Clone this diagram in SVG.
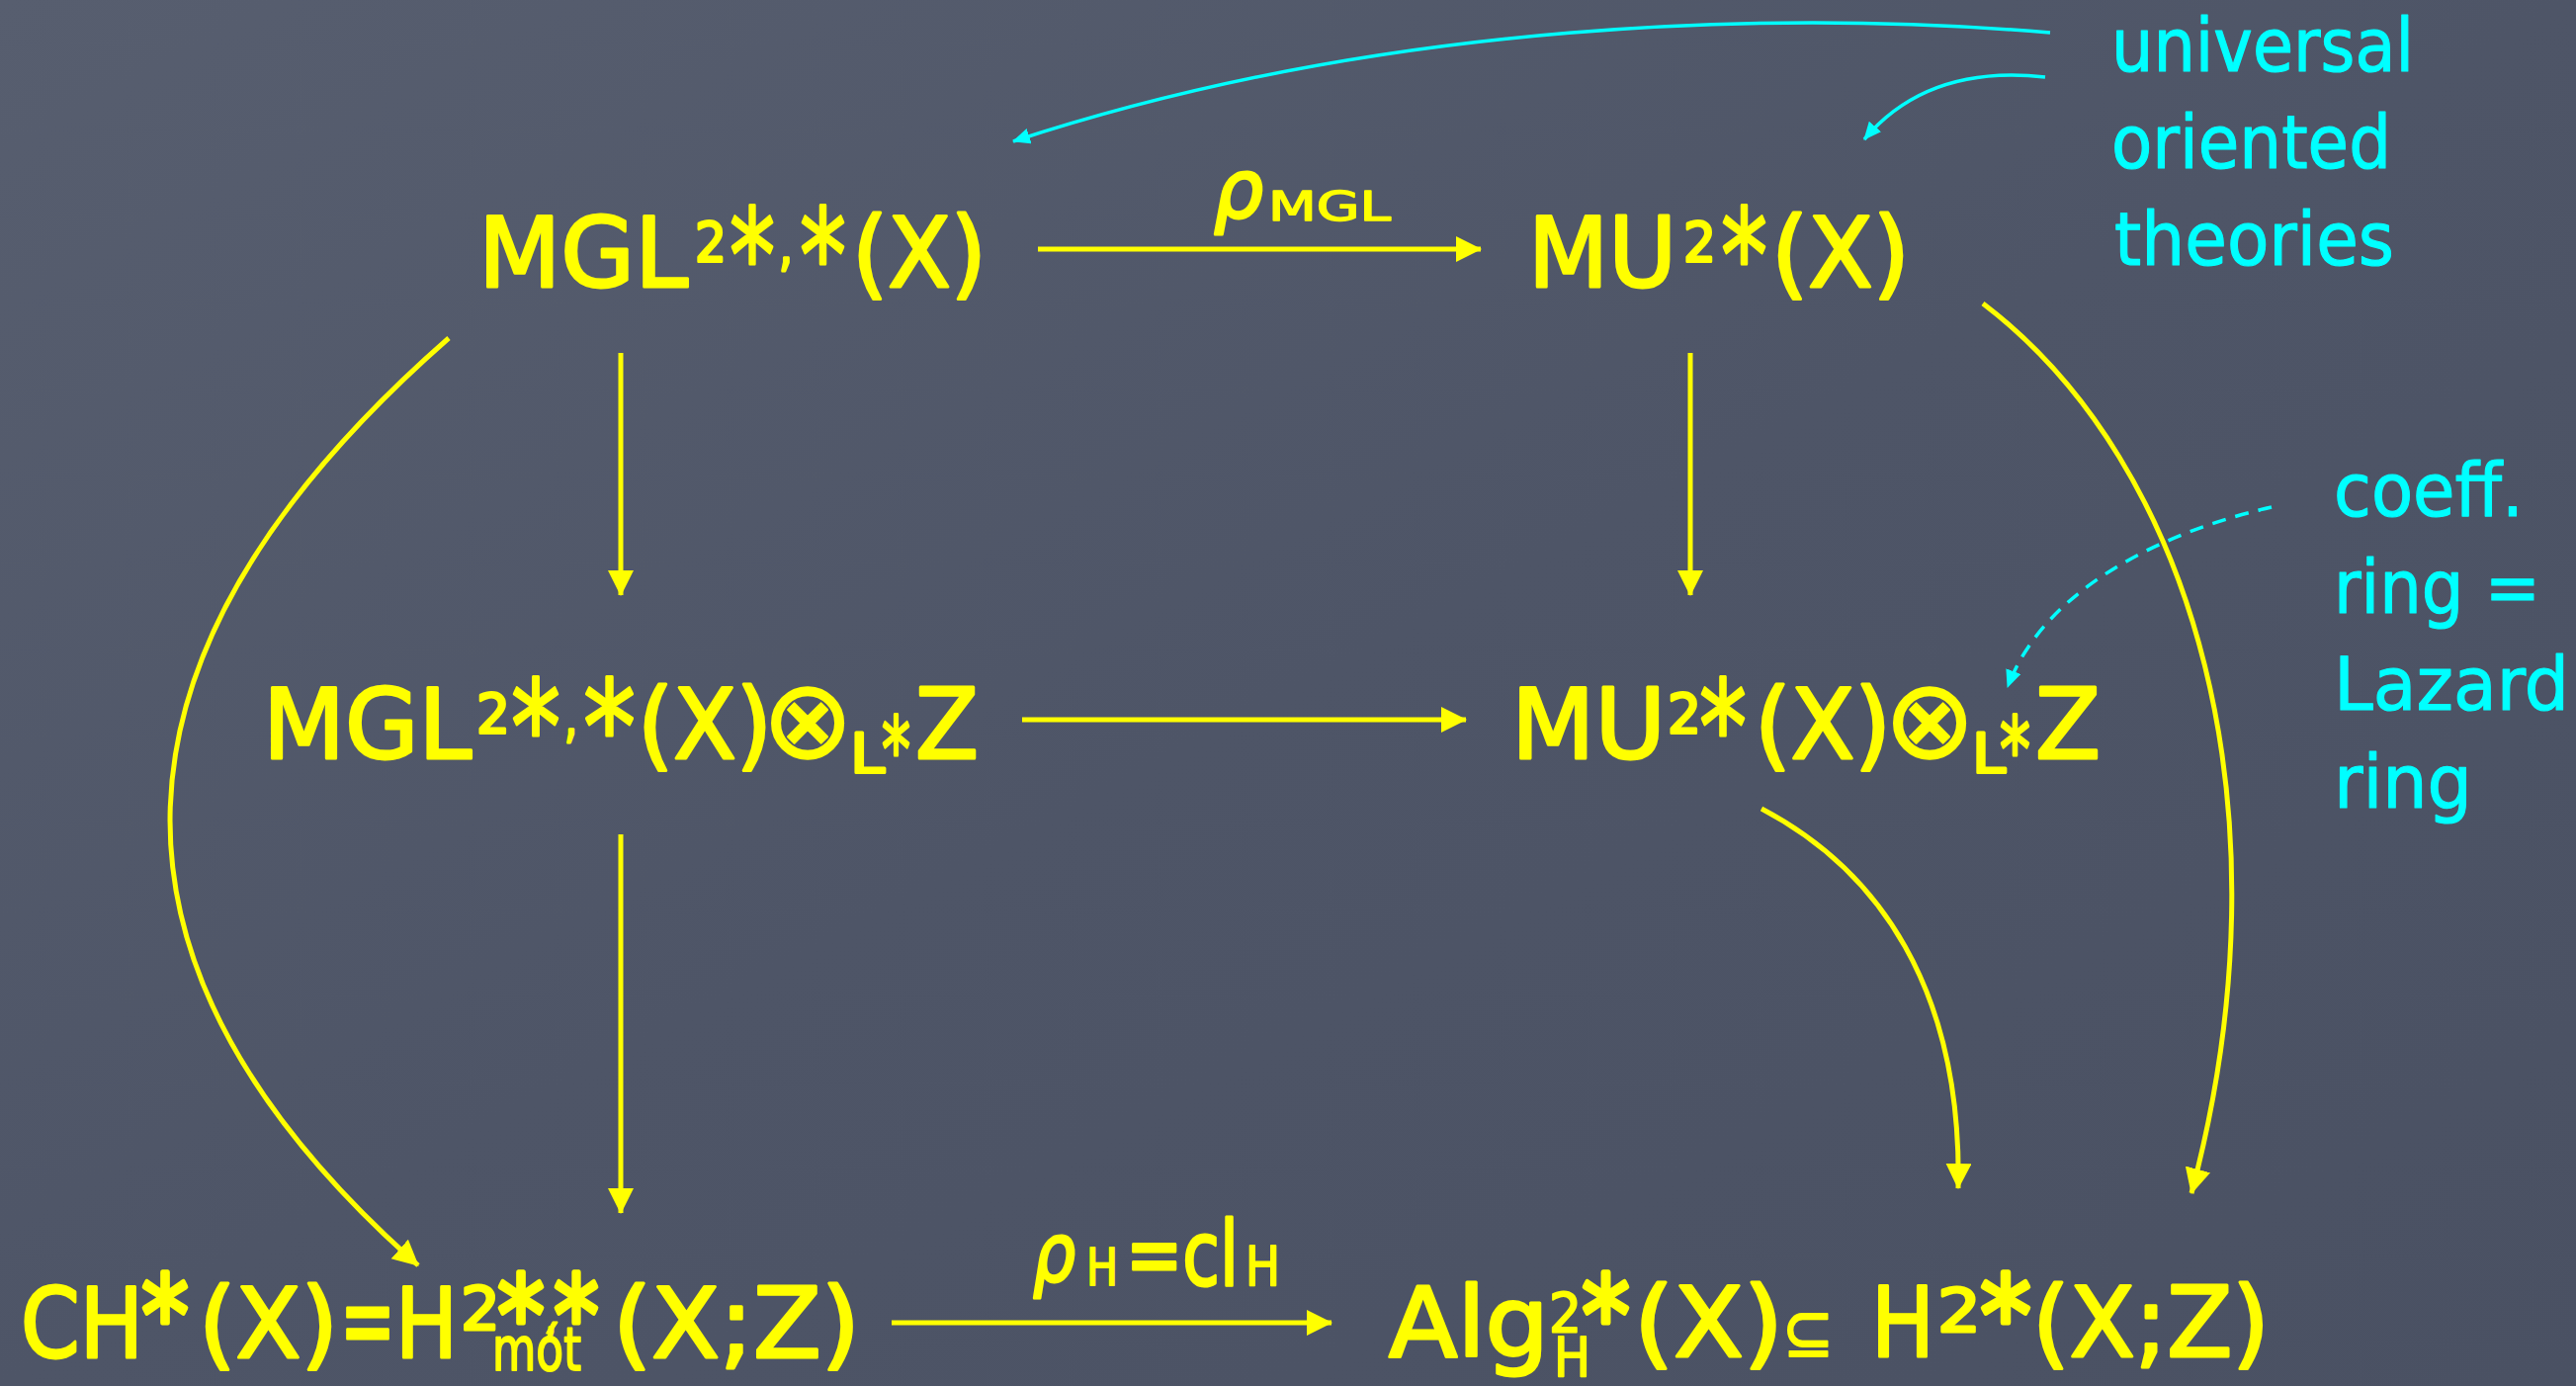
<svg xmlns="http://www.w3.org/2000/svg" width="2606" height="1402" viewBox="0 0 2606 1402">
<defs>
<linearGradient id="bg" x1="0" y1="0" x2="1" y2="1">
<stop offset="0" stop-color="#575e6f"/>
<stop offset="0.5" stop-color="#4e5567"/>
<stop offset="1" stop-color="#4a5163"/>
</linearGradient>
<marker id="ya" markerUnits="userSpaceOnUse" markerWidth="28" markerHeight="28" refX="25" refY="13" orient="auto">
<path d="M0,0 L26,13 L0,26 z" fill="#ffff00"/>
</marker>
<marker id="ca" markerUnits="userSpaceOnUse" markerWidth="20" markerHeight="20" refX="17" refY="8" orient="auto">
<path d="M0,0 L18,8 L0,16 z" fill="#00ffff"/>
</marker>
<style>
.y{fill:#ffff00;stroke:#ffff00;stroke-width:3;stroke-linejoin:round;font-family:"DejaVu Sans",sans-serif;font-size:98px}
.c{fill:#00ffff;stroke:#00ffff;stroke-width:1.2;stroke-linejoin:round;font-family:"DejaVu Sans",sans-serif;font-size:74px}
.s{font-size:56px}
.a{font-size:130px}
.ab{font-size:112px;stroke-width:5}
.o{font-size:110px;stroke-width:2}
.yl{fill:none;stroke:#ffff00;stroke-width:5;marker-end:url(#ya)}
.cl{fill:none;stroke:#00ffff;stroke-width:3.5;marker-end:url(#ca)}
</style>
</defs>
<rect width="2606" height="1402" fill="url(#bg)"/>

<g id="connectors">
<line class="yl" x1="1050" y1="252" x2="1498" y2="252"/>
<line class="yl" x1="1034" y1="728" x2="1483" y2="728"/>
<line class="yl" x1="902" y1="1338" x2="1347" y2="1338"/>
<line class="yl" x1="628" y1="357" x2="628" y2="602"/>
<line class="yl" x1="1710" y1="357" x2="1710" y2="602"/>
<line class="yl" x1="628" y1="844" x2="628" y2="1227"/>
<path class="yl" d="M454,342 Q-94,822 423,1280"/>
<path class="yl" d="M2006,307 C2220,470 2320,820 2217,1207"/>
<path class="yl" d="M1782,818 C1900,880 1985,1000 1981,1202"/>
<path class="cl" d="M2074,33 C1800,10 1400,20 1025,143"/>
<path class="cl" d="M2069,78 Q1950,65 1886,141"/>
<path class="cl" d="M2298,513 C2200,535 2070,590 2031,695" stroke-dasharray="14 10" stroke-width="3"/>
</g>

<g id="label-rho-mgl">
<text class="y"><tspan x="1228" y="220" font-size="82" font-style="italic" textLength="50" lengthAdjust="spacingAndGlyphs">ρ</tspan><tspan x="1283" y="223" font-size="41" stroke-width="1.5" textLength="124" lengthAdjust="spacingAndGlyphs">MGL</tspan></text>
</g>
<g id="label-rho-h">
<text class="y"><tspan x="1045" y="1296" font-size="82" font-style="italic" textLength="43" lengthAdjust="spacingAndGlyphs">ρ</tspan><tspan x="1099" y="1300" font-size="51" stroke-width="2" textLength="32" lengthAdjust="spacingAndGlyphs">H</tspan><tspan x="1139" y="1300" font-size="90" textLength="114" lengthAdjust="spacingAndGlyphs">=cl</tspan><tspan x="1260" y="1300" font-size="55" stroke-width="2" textLength="35" lengthAdjust="spacingAndGlyphs">H</tspan></text>
</g>

<g id="node-mgl">
<text class="y"><tspan x="484" y="290" textLength="212" lengthAdjust="spacingAndGlyphs">MGL</tspan><tspan class="s" x="703" y="264" textLength="32" lengthAdjust="spacingAndGlyphs">2</tspan><tspan class="a" x="738" y="304" textLength="46" lengthAdjust="spacingAndGlyphs">*</tspan><tspan class="s" x="788" y="268" textLength="14" lengthAdjust="spacingAndGlyphs">,</tspan><tspan class="a" x="809" y="304" textLength="47" lengthAdjust="spacingAndGlyphs">*</tspan><tspan x="862" y="290" textLength="136" lengthAdjust="spacingAndGlyphs">(X)</tspan></text>
</g>

<g id="node-mu">
<text class="y"><tspan x="1546" y="290" textLength="150" lengthAdjust="spacingAndGlyphs">MU</tspan><tspan class="s" x="1703" y="264" textLength="33" lengthAdjust="spacingAndGlyphs">2</tspan><tspan class="a" x="1741" y="304" textLength="47" lengthAdjust="spacingAndGlyphs">*</tspan><tspan x="1792" y="290" textLength="140" lengthAdjust="spacingAndGlyphs">(X)</tspan></text>
</g>

<g id="node-mgl-tensor">
<text class="y"><tspan x="266" y="767" textLength="211" lengthAdjust="spacingAndGlyphs">MGL</tspan><tspan class="s" x="482" y="741" textLength="34" lengthAdjust="spacingAndGlyphs">2</tspan><tspan class="a" x="517" y="781" textLength="50" lengthAdjust="spacingAndGlyphs">*</tspan><tspan class="s" x="571" y="745" textLength="13" lengthAdjust="spacingAndGlyphs">,</tspan><tspan class="a" x="590" y="781" textLength="53" lengthAdjust="spacingAndGlyphs">*</tspan><tspan x="645" y="767" textLength="136" lengthAdjust="spacingAndGlyphs">(X)</tspan><tspan class="o" x="771" y="766">⊗</tspan><tspan class="s" x="860" y="781" textLength="35" lengthAdjust="spacingAndGlyphs">L</tspan><tspan x="892" y="790" font-size="90" textLength="29" lengthAdjust="spacingAndGlyphs">*</tspan><tspan x="926" y="767" textLength="64" lengthAdjust="spacingAndGlyphs">Z</tspan></text>
</g>

<g id="node-mu-tensor">
<text class="y"><tspan x="1529" y="767" textLength="156" lengthAdjust="spacingAndGlyphs">MU</tspan><tspan class="s" x="1687" y="741" textLength="34" lengthAdjust="spacingAndGlyphs">2</tspan><tspan class="a" x="1719" y="781" textLength="48" lengthAdjust="spacingAndGlyphs">*</tspan><tspan x="1775" y="767" textLength="138" lengthAdjust="spacingAndGlyphs">(X)</tspan><tspan class="o" x="1906" y="766">⊗</tspan><tspan class="s" x="1995" y="781" textLength="34" lengthAdjust="spacingAndGlyphs">L</tspan><tspan x="2023" y="790" font-size="90" textLength="31" lengthAdjust="spacingAndGlyphs">*</tspan><tspan x="2059" y="767" textLength="66" lengthAdjust="spacingAndGlyphs">Z</tspan></text>
</g>

<g id="node-ch">
<text class="y"><tspan x="21" y="1373" textLength="124" lengthAdjust="spacingAndGlyphs">CH</tspan><tspan class="ab" x="143" y="1370" textLength="48" lengthAdjust="spacingAndGlyphs">*</tspan><tspan x="201" y="1373" textLength="141" lengthAdjust="spacingAndGlyphs">(X)</tspan><tspan x="344" y="1373" font-size="110" textLength="56" lengthAdjust="spacingAndGlyphs">=</tspan><tspan x="400" y="1373" textLength="63" lengthAdjust="spacingAndGlyphs">H</tspan><tspan x="466" y="1345" font-size="60" textLength="40" lengthAdjust="spacingAndGlyphs">2</tspan><tspan class="ab" x="503" y="1370" textLength="48" lengthAdjust="spacingAndGlyphs">*</tspan><tspan class="s" x="551" y="1350" textLength="12" lengthAdjust="spacingAndGlyphs">,</tspan><tspan class="ab" x="560" y="1370" textLength="46" lengthAdjust="spacingAndGlyphs">*</tspan><tspan x="498" y="1386" font-size="60" stroke-width="2" textLength="90" lengthAdjust="spacingAndGlyphs">mót</tspan><tspan x="620" y="1373" textLength="250" lengthAdjust="spacingAndGlyphs">(X;Z)</tspan></text>
</g>

<g id="node-alg">
<text class="y"><tspan x="1405" y="1372" textLength="162" lengthAdjust="spacingAndGlyphs">Alg</tspan><tspan class="s" x="1567" y="1347" stroke-width="2" textLength="33" lengthAdjust="spacingAndGlyphs">2</tspan><tspan class="s" x="1572" y="1392" stroke-width="2" textLength="37" lengthAdjust="spacingAndGlyphs">H</tspan><tspan class="ab" x="1600" y="1370" textLength="49" lengthAdjust="spacingAndGlyphs">*</tspan><tspan x="1653" y="1372" textLength="151" lengthAdjust="spacingAndGlyphs">(X)</tspan><tspan x="1803" y="1372" font-size="70" stroke-width="2" textLength="52" lengthAdjust="spacingAndGlyphs">⊆</tspan><tspan x="1893" y="1372" textLength="64" lengthAdjust="spacingAndGlyphs">H</tspan><tspan x="1960" y="1347" font-size="60" textLength="44" lengthAdjust="spacingAndGlyphs">2</tspan><tspan class="ab" x="2003" y="1370" textLength="52" lengthAdjust="spacingAndGlyphs">*</tspan><tspan x="2056" y="1372" textLength="240" lengthAdjust="spacingAndGlyphs">(X;Z)</tspan></text>
</g>

<g id="note-universal">
<text class="c"><tspan x="2136" y="72" textLength="306" lengthAdjust="spacingAndGlyphs">universal</tspan><tspan x="2136" y="170" textLength="283" lengthAdjust="spacingAndGlyphs">oriented</tspan><tspan x="2139" y="268" textLength="283" lengthAdjust="spacingAndGlyphs">theories</tspan></text>
</g>

<g id="note-coeff">
<text class="c"><tspan x="2361" y="522" textLength="192" lengthAdjust="spacingAndGlyphs">coeff.</tspan><tspan x="2361" y="620" textLength="209" lengthAdjust="spacingAndGlyphs">ring =</tspan><tspan x="2361" y="718" textLength="238" lengthAdjust="spacingAndGlyphs">Lazard</tspan><tspan x="2361" y="817" textLength="140" lengthAdjust="spacingAndGlyphs">ring</tspan></text>
</g>
</svg>
